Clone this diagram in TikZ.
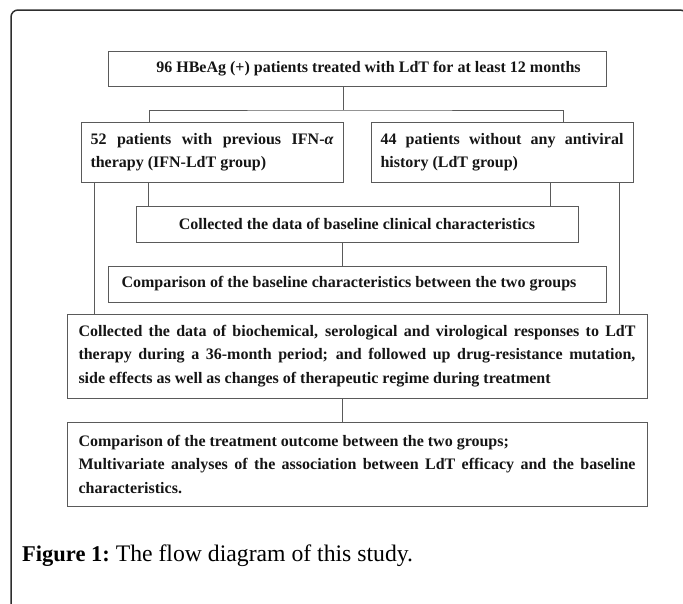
\documentclass[tikz,border=0pt]{standalone}
\usepackage{fontspec}
\setmainfont{Liberation Serif}
\newfontfamily\boxfont{Liberation Serif}
\usetikzlibrary{calc}
\definecolor{boxline}{HTML}{5A5A5A}
\definecolor{frameline}{HTML}{2E2E2E}
\definecolor{txt}{HTML}{151515}
\tikzset{
  stepbox/.style={draw=boxline, line width=1pt, text=txt, inner ysep=2pt,
    font=\boxfont\bfseries\fontsize{16}{23.5}\selectfont},
  widebox/.style={stepbox, text width=557pt, inner xsep=11.5pt, minimum height=84pt, align=justify},
  groupbox/.style={stepbox, text width=243pt, inner xsep=9.5pt, minimum height=60pt, align=justify},
  conn/.style={draw=boxline, line width=0.9pt}
}
\begin{document}
\begin{tikzpicture}[x=1pt, y=-1pt]
\useasboundingbox (0,0) rectangle (683,603);
% outer frame
\draw[frameline, line width=1.5pt] (11,610) -- (11,17) arc[start angle=180, end angle=270, radius=7] -- (680,10) arc[start angle=270, end angle=360, radius=7] -- (687,30);

\node[stepbox, minimum width=498pt, minimum height=35pt] (box1) at (357,68.5)
  {\hspace*{23pt}96 HBeAg (+) patients treated with LdT for at least 12 months};

\node[groupbox] (box2) at (212,152)
  {52 patients with previous IFN-{\itshape α}\linebreak therapy (IFN-LdT group)};
\node[groupbox] (box3) at (502,152)
  {44 patients without any antiviral\linebreak history (LdT group)};

\node[stepbox, minimum width=442pt, minimum height=36pt] (base) at (357,224)
  {Collected the data of baseline clinical characteristics};
\node[stepbox, minimum width=498pt, minimum height=36pt] (comp) at (357,284)
  {\hspace*{-16pt}Comparison of the baseline characteristics between the two groups};

\node[widebox] (big) at (357,356)
  {Collected the data of biochemical, serological and virological responses to LdT\linebreak
   therapy during a 36-month period; and followed up drug-resistance mutation,\linebreak
   side effects as well as changes of therapeutic regime during treatment};
\node[widebox] (final) at (357,464)
  {Comparison of the treatment outcome between the two groups;\par
   Multivariate analyses of the association between LdT efficacy and the baseline\linebreak
   characteristics.};

% connectors
\coordinate (j1) at ([xshift=236pt]box1.south west |- 0,110);
\draw[conn] ([xshift=236pt]box1.south west) -- (j1);
\draw[conn] ([xshift=69pt]box2.north west) |- (j1) -| ([xshift=193pt]box3.north west);
\draw[conn] ([xshift=14pt]box2.south west) -- ([xshift=14pt]box2.south west |- big.north);
\draw[conn] ([xshift=68pt]box2.south west) -- ([xshift=68pt]box2.south west |- base.north);
\draw[conn] ([xshift=180pt]box3.south west) -- ([xshift=180pt]box3.south west |- base.north);
\draw[conn] ([xshift=249pt]box3.south west) -- ([xshift=249pt]box3.south west |- big.north);
\draw[conn] ([xshift=207pt]base.south west) -- ([xshift=207pt]base.south west |- comp.north);
\draw[conn] ([xshift=276pt]big.south west) -- ([xshift=276pt]big.south west |- final.north);

\node[anchor=base west, inner sep=0pt, text=black] (cap) at (22,561)
  {{\bfseries\fontsize{22.5}{26}\selectfont Figure 1:}\fontsize{23.7}{26}\selectfont\ The flow diagram of this study.};
\end{tikzpicture}
\end{document}
